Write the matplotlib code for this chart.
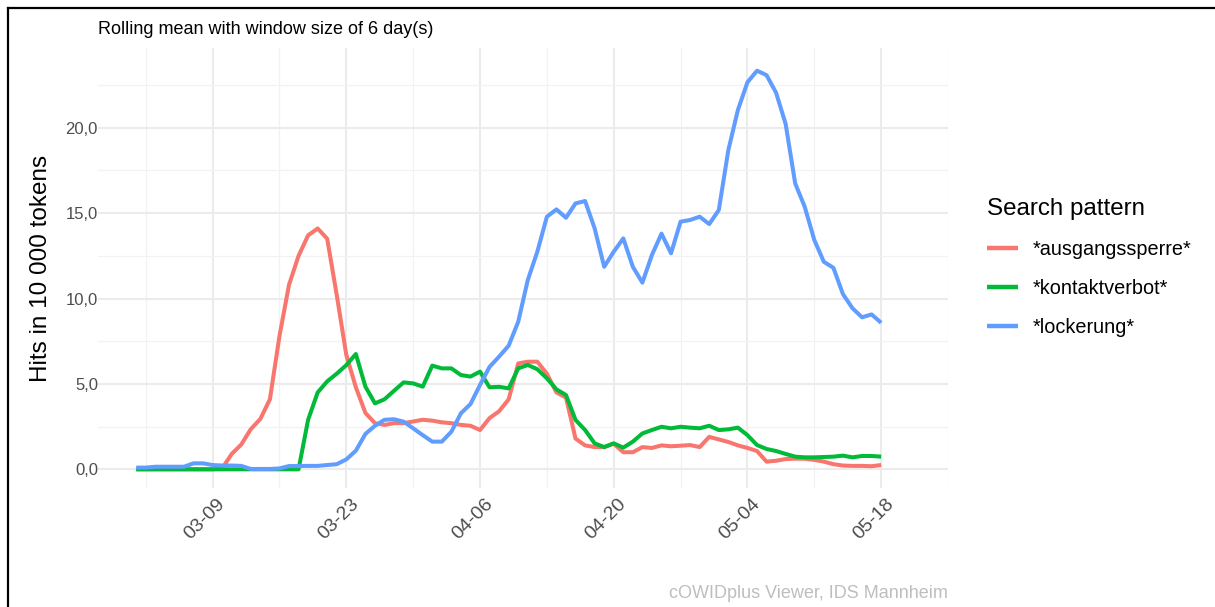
import datetime as dt
import numpy as np
import matplotlib
matplotlib.use("Agg")
import matplotlib.pyplot as plt
import matplotlib.dates as mdates
import matplotlib.ticker as mticker
from matplotlib.lines import Line2D
from matplotlib.transforms import ScaledTranslation

plt.rcParams.update({
    "font.family": ["Liberation Sans", "DejaVu Sans"],
})

# --- data: rolling mean (6 days), hits per 10 000 tokens, 2020-03-01 .. 2020-05-18 ---
start = dt.date(2020, 3, 1)
dates = [start + dt.timedelta(days=i) for i in range(79)]

ausgangssperre = [
    0.0, 0.0, 0.0, 0.0, 0.0, 0.0, 0.0, 0.0, 0.0, 0.05,
    0.9, 1.45, 2.35, 2.95, 4.1, 7.8, 10.8, 12.5, 13.7, 14.1,
    13.5, 10.2, 6.7, 4.8, 3.3, 2.7, 2.6, 2.7, 2.7, 2.8,
    2.9, 2.85, 2.75, 2.7, 2.6, 2.55, 2.3, 3.0, 3.4, 4.1,
    6.2, 6.3, 6.3, 5.6, 4.5, 4.2, 1.8, 1.4, 1.3, 1.3,
    1.5, 1.0, 1.0, 1.3, 1.25, 1.4, 1.35, 1.38, 1.42, 1.3,
    1.9, 1.75, 1.6, 1.4, 1.25, 1.07, 0.45, 0.5, 0.6, 0.62,
    0.62, 0.55, 0.45, 0.3, 0.22, 0.2, 0.2, 0.18, 0.25,
]
kontaktverbot = [
    0.0, 0.0, 0.0, 0.0, 0.0, 0.0, 0.0, 0.0, 0.0, 0.0,
    0.0, 0.0, 0.0, 0.0, 0.0, 0.0, 0.0, 0.0, 2.9, 4.5,
    5.15, 5.6, 6.1, 6.75, 4.84, 3.86, 4.1, 4.6, 5.09, 5.03,
    4.84, 6.07, 5.91, 5.91, 5.52, 5.43, 5.72, 4.8, 4.83, 4.74,
    5.91, 6.11, 5.86, 5.33, 4.68, 4.35, 2.89, 2.3, 1.52, 1.3,
    1.52, 1.27, 1.62, 2.1, 2.3, 2.49, 2.4, 2.49, 2.44, 2.4,
    2.55, 2.3, 2.34, 2.44, 2.0, 1.42, 1.19, 1.07, 0.9, 0.74,
    0.7, 0.7, 0.72, 0.74, 0.8, 0.7, 0.78, 0.78, 0.74,
]
lockerung = [
    0.1, 0.1, 0.15, 0.15, 0.15, 0.15, 0.35, 0.35, 0.25, 0.22,
    0.22, 0.2, 0.02, 0.02, 0.02, 0.05, 0.19, 0.19, 0.2, 0.2,
    0.25, 0.3, 0.58, 1.09, 2.07, 2.55, 2.9, 2.93, 2.79, 2.4,
    2.0, 1.62, 1.62, 2.2, 3.28, 3.82, 4.94, 6.0, 6.6, 7.24,
    8.64, 11.08, 12.74, 14.79, 15.22, 14.73, 15.57, 15.71, 14.11, 11.86,
    12.74, 13.52, 11.86, 10.93, 12.55, 13.8, 12.65, 14.5, 14.6, 14.79,
    14.36, 15.18, 18.69, 21.04, 22.66, 23.34, 23.08, 22.05, 20.22, 16.74,
    15.37, 13.43, 12.15, 11.8, 10.26, 9.43, 8.9, 9.07, 8.58,
]

series = [
    ("*ausgangssperre*", ausgangssperre, "#F8766D"),
    ("*kontaktverbot*", kontaktverbot, "#00BA38"),
    ("*lockerung*", lockerung, "#619CFF"),
]

# --- figure ---
fig = plt.figure(figsize=(12.15, 6.07), dpi=100)
ax = fig.add_axes([98 / 1215, 1 - 488 / 607, 850 / 1215, 440 / 607])

for label, vals, col in series:
    ax.plot(dates, vals, color=col, linewidth=2.9, label=label,
            solid_joinstyle="round", solid_capstyle="butt")

ax.set_xlim(start - dt.timedelta(days=4.18), start + dt.timedelta(days=85.2))
ax.set_ylim(-1.095, 24.67)

major_x = [dt.date(2020, 3, 9) + dt.timedelta(days=14 * i) for i in range(6)]
minor_x = [dt.date(2020, 3, 2) + dt.timedelta(days=14 * i) for i in range(7)]
ax.xaxis.set_major_locator(mticker.FixedLocator(mdates.date2num(major_x)))
ax.xaxis.set_minor_locator(mticker.FixedLocator(mdates.date2num(minor_x)))
ax.xaxis.set_major_formatter(mdates.DateFormatter("%m-%d"))

ax.yaxis.set_major_locator(mticker.MultipleLocator(5))
ax.yaxis.set_minor_locator(mticker.MultipleLocator(2.5))
ax.yaxis.set_major_formatter(
    mticker.FuncFormatter(lambda v, _: f"{v:.1f}".replace(".", ","))
)

ax.grid(True, which="major", color="#EBEBEB", linewidth=1.5)
ax.grid(True, which="minor", color="#F2F2F2", linewidth=0.9)
ax.set_axisbelow(True)
for sp in ax.spines.values():
    sp.set_visible(False)
ax.tick_params(which="both", length=0)
ax.tick_params(axis="y", labelsize=12, labelcolor="#4D4D4D", pad=0)
ax.tick_params(axis="x", labelsize=14, labelcolor="#4D4D4D", pad=4)

offset = ScaledTranslation(10 / 100, -8 / 100, fig.dpi_scale_trans)
for lab in ax.get_xticklabels():
    lab.set_rotation(45)
    lab.set_ha("right")
    lab.set_va("center")
    lab.set_rotation_mode("anchor")
    lab.set_transform(lab.get_transform() + offset)

ax.set_ylabel("Hits in 10 000 tokens", fontsize=17.5, color="black", labelpad=10)

fig.text(98 / 1215, 1 - 29 / 607, "Rolling mean with window size of 6 day(s)",
         fontsize=13, ha="left", va="center", color="black")
fig.text(948 / 1215, 1 - 593 / 607, "cOWIDplus Viewer, IDS Mannheim",
         fontsize=13, ha="right", va="center", color="#BEBEBE")

leg = fig.legend(loc="upper left", bbox_to_anchor=(979 / 1215, 1 - 190 / 607),
                 frameon=False, fontsize=14.3, title="Search pattern",
                 title_fontsize=17.4, handlelength=1.56, handletextpad=0.75,
                 labelspacing=1.0, borderaxespad=0)
leg._legend_box.align = "left"
for h in leg.legend_handles:
    h.set_linewidth(3.2)

# frame lines at top and left of the picture
fig.add_artist(Line2D([8 / 1215, 8 / 1215], [0, 1 - 8 / 607], color="black",
                      linewidth=1.6, transform=fig.transFigure))
fig.add_artist(Line2D([8 / 1215, 1], [1 - 8 / 607, 1 - 8 / 607], color="black",
                      linewidth=1.6, transform=fig.transFigure))

fig.savefig("out.png", dpi=100)
